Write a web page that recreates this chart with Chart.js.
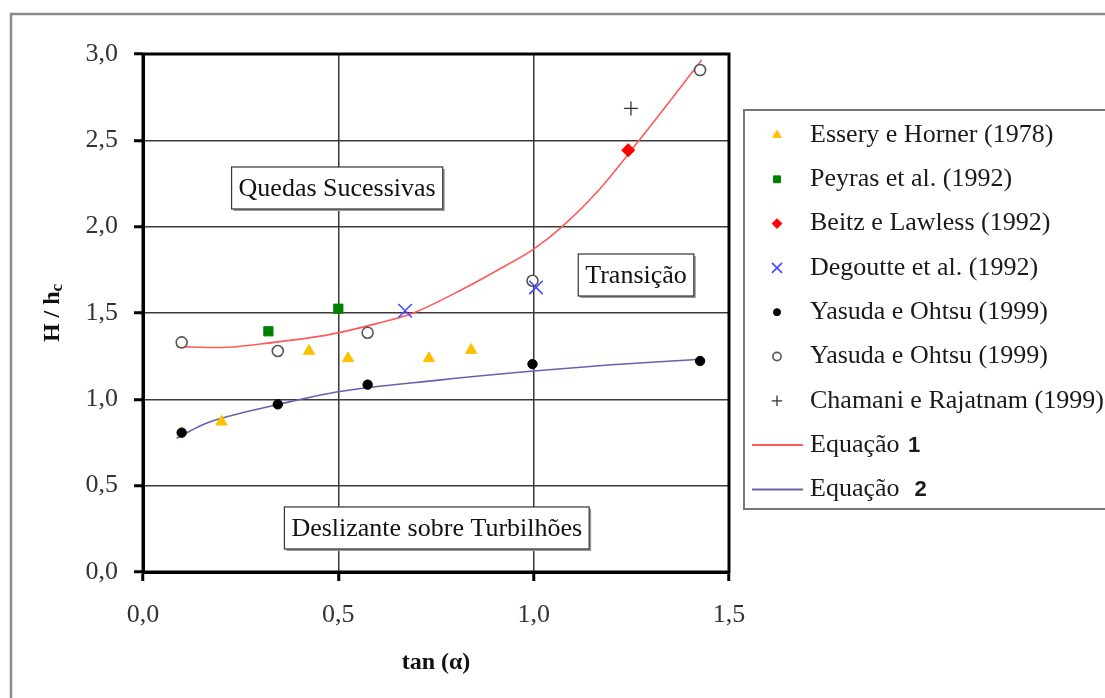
<!DOCTYPE html>
<html>
<head>
<meta charset="utf-8">
<script src="https://cdn.jsdelivr.net/npm/chart.js@4.4.0/dist/chart.umd.min.js"></script>
<style>
  body { margin: 0; background: #fff; }
</style>
</head>
<body>
<canvas id="chart" width="1105" height="698"></canvas>
<script>
// values (x = tan(alpha), y = H / hc)
const esseryX = [0.201, 0.425, 0.525, 0.732, 0.84];
const esseryY = [0.87, 1.28, 1.237, 1.237, 1.285];
const peyrasX = [0.321, 0.5];
const peyrasY = [1.394, 1.525];
const beitzX = [1.242];
const beitzY = [2.443];
const degoutteX = [0.671, 1.006];
const degoutteY = [1.513, 1.648];
const yasudaFullX = [0.099, 0.345, 0.575, 0.997, 1.426];
const yasudaFullY = [0.807, 0.971, 1.085, 1.204, 1.222];
const yasudaOpenX = [0.099, 0.345, 0.575, 0.997, 1.426];
const yasudaOpenY = [1.33, 1.28, 1.386, 1.687, 2.907];
const chamaniX = [1.249];
const chamaniY = [2.685];
const eq1X = [0.086, 0.2, 0.3, 0.479, 0.6, 0.692, 0.82, 0.905, 1.0, 1.073, 1.17, 1.27, 1.43];
const eq1Y = [1.305, 1.30, 1.32, 1.376, 1.44, 1.50, 1.64, 1.745, 1.87, 2.0, 2.22, 2.5, 2.965];
const eq2X = [0.086, 0.15, 0.2, 0.345, 0.5, 0.75, 1.0, 1.2, 1.43];
const eq2Y = [0.774, 0.85, 0.89, 0.97, 1.044, 1.11, 1.164, 1.20, 1.232];

const xTicks = [0, 0.5, 1.0, 1.5];
const yTicks = [0, 0.5, 1.0, 1.5, 2.0, 2.5, 3.0];

const regionLabels = ['Quedas Sucessivas', 'Transição', 'Deslizante sobre Turbilhões'];
const regionAt = [[0.497, 2.224], [1.262, 1.72], [0.752, 0.255]];

const pts = (xs, ys) => xs.map((x, i) => ({ x: x, y: ys[i] }));
const serif = '"Liberation Serif", "Times New Roman", serif';

const datasets = [
    { label: 'Essery e Horner (1978)', data: pts(esseryX, esseryY), pointStyle: 'triangle',
      pointRadius: 6.5, backgroundColor: '#ffc000', borderColor: '#ffc000', borderWidth: 1 },
    { label: 'Peyras et al. (1992)', data: pts(peyrasX, peyrasY), pointStyle: 'rect',
      pointRadius: 6.5, backgroundColor: '#008000', borderColor: '#008000', borderWidth: 1 },
    { label: 'Beitz e Lawless (1992)', data: pts(beitzX, beitzY), pointStyle: 'rectRot',
      pointRadius: 6.5, backgroundColor: '#ff0000', borderColor: '#ff0000', borderWidth: 1 },
    { label: 'Degoutte et al. (1992)', data: pts(degoutteX, degoutteY), pointStyle: 'crossRot',
      pointRadius: 9.5, backgroundColor: '#4848ff', borderColor: '#4848ff', borderWidth: 1.6 },
    { label: 'Yasuda e Ohtsu (1999)', data: pts(yasudaFullX, yasudaFullY), pointStyle: 'circle',
      pointRadius: 4.7, backgroundColor: '#000', borderColor: '#000', borderWidth: 1 },
    { label: 'Yasuda e Ohtsu (1999)', data: pts(yasudaOpenX, yasudaOpenY), pointStyle: 'circle',
      pointRadius: 5.5, backgroundColor: '#fff', borderColor: '#555', borderWidth: 1.6 },
    { label: 'Chamani e Rajatnam (1999)', data: pts(chamaniX, chamaniY), pointStyle: 'cross',
      pointRadius: 7, backgroundColor: '#333', borderColor: '#333', borderWidth: 1.3 },
    { label: 'Equação ', num: '1', data: pts(eq1X, eq1Y), showLine: true, pointRadius: 0,
      borderColor: '#ff5a5a', borderWidth: 1.6, cubicInterpolationMode: 'monotone' },
    { label: 'Equação  ', num: '2', data: pts(eq2X, eq2Y), showLine: true, pointRadius: 0,
      borderColor: '#6464ac', borderWidth: 1.6, cubicInterpolationMode: 'monotone' }
];

// frame, region boxes, y title and legend
const extras = {
    id: 'extras',
    beforeDraw(chart) {
        const c = chart.ctx;
        c.save();
        c.fillStyle = '#fff';
        c.fillRect(0, 0, chart.width, chart.height);
        c.strokeStyle = '#8c8c8c';
        c.lineWidth = 2.5;
        c.beginPath();
        c.moveTo(11, 720);
        c.lineTo(11, 14);
        c.lineTo(1120, 14);
        c.stroke();
        c.restore();
    },
    afterDatasetsDraw(chart) {
        const c = chart.ctx;
        const sx = chart.scales.x, sy = chart.scales.y;
        c.save();
        c.font = '26px ' + serif;
        c.textAlign = 'center';
        c.textBaseline = 'middle';
        regionLabels.forEach((t, i) => {
            const px = sx.getPixelForValue(regionAt[i][0]);
            const py = sy.getPixelForValue(regionAt[i][1]);
            const w = c.measureText(t).width + 14;
            const h = 42;
            c.fillStyle = '#9a9a9a';
            c.fillRect(px - w / 2 + 2, py - h / 2 + 2, w, h);
            c.fillStyle = '#fff';
            c.fillRect(px - w / 2, py - h / 2, w, h);
            c.strokeStyle = '#333';
            c.lineWidth = 1.2;
            c.strokeRect(px - w / 2, py - h / 2, w, h);
            c.fillStyle = '#111';
            c.fillText(t, px, py + 1);
        });
        c.restore();
    },
    afterDraw(chart) {
        const c = chart.ctx;
        const a = chart.chartArea;
        c.save();
        c.strokeStyle = '#000';
        c.lineWidth = 3;
        c.strokeRect(a.left, a.top, a.right - a.left, a.bottom - a.top);

        // y axis title with subscript
        c.translate(53, (a.top + a.bottom) / 2);
        c.rotate(-Math.PI / 2);
        c.fillStyle = '#111';
        c.textBaseline = 'middle';
        const main = 'H / h';
        c.font = 'bold 24px ' + serif;
        const w1 = c.measureText(main).width;
        c.font = 'bold 17px ' + serif;
        const w2 = c.measureText('c').width;
        c.font = 'bold 24px ' + serif;
        c.textAlign = 'left';
        c.fillText(main, -(w1 + w2) / 2, 0);
        c.font = 'bold 17px ' + serif;
        c.fillText('c', -(w1 + w2) / 2 + w1, 5);
        c.setTransform(1, 0, 0, 1, 0, 0);

        // legend
        c.fillStyle = '#fff';
        c.fillRect(744, 110, 380, 399);
        c.strokeStyle = '#777';
        c.lineWidth = 2;
        c.strokeRect(744, 110, 380, 399);
        c.textAlign = 'left';
        c.textBaseline = 'middle';
        chart.data.datasets.forEach((ds, i) => {
            const y = 135 + i * 44.3;
            if (ds.showLine) {
                c.strokeStyle = ds.borderColor;
                c.lineWidth = 2;
                c.beginPath();
                c.moveTo(752, y);
                c.lineTo(803, y);
                c.stroke();
            } else {
                c.fillStyle = ds.backgroundColor;
                c.strokeStyle = ds.borderColor;
                c.lineWidth = ds.borderWidth;
                Chart.helpers.drawPoint(c, {
                    pointStyle: ds.pointStyle, rotation: 0,
                    radius: ds.pointRadius * 0.75, borderWidth: ds.borderWidth
                }, 777, y);
            }
            c.fillStyle = '#1a1a1a';
            c.font = '26px ' + serif;
            c.fillText(ds.label, 810, y);
            if (ds.num) {
                const lw = c.measureText(ds.label).width;
                c.font = 'bold 22px "Liberation Sans", Arial, sans-serif';
                c.fillText(ds.num, 810 + lw + 2, y + 1);
            }
        });
        c.restore();
    }
};

const fmt = v => Number(v).toFixed(1).replace('.', ',');

new Chart(document.getElementById('chart'), {
    type: 'scatter',
    data: { datasets: datasets },
    options: {
        responsive: false,
        animation: false,
        layout: { padding: { top: 54, right: 376, bottom: 0, left: 0 } },
        plugins: {
            legend: { display: false },
            tooltip: { enabled: false }
        },
        scales: {
            x: {
                type: 'linear',
                min: 0,
                max: 1.5,
                afterFit: s => { s.height = 126; },
                afterBuildTicks: s => { s.ticks = xTicks.map(v => ({ value: v })); },
                ticks: { callback: fmt, color: '#333', padding: 19, font: { family: serif, size: 26 } },
                grid: { color: '#3a3a3a', lineWidth: 1.5, tickColor: '#000', tickWidth: 3, tickLength: 9 },
                border: { color: '#000', width: 3 },
                title: {
                    display: true, text: 'tan (α)', color: '#111',
                    font: { family: serif, size: 24, weight: 'bold' },
                    padding: { top: 0, bottom: 21 }
                }
            },
            y: {
                type: 'linear',
                min: 0,
                max: 3,
                afterFit: s => { s.width = 143; },
                afterBuildTicks: s => { s.ticks = yTicks.map(v => ({ value: v })); },
                ticks: { callback: fmt, color: '#333', padding: 16, font: { family: serif, size: 26 } },
                grid: { color: '#3a3a3a', lineWidth: 1.5, tickColor: '#000', tickWidth: 3, tickLength: 9 },
                border: { color: '#000', width: 3 }
            }
        }
    },
    plugins: [extras]
});
</script>
</body>
</html>
